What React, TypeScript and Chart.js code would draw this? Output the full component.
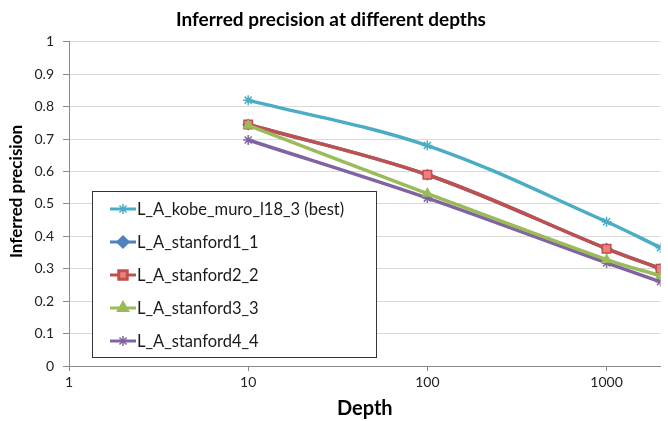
import React, { useEffect, useRef } from "react";
import { Chart, registerables } from "chart.js";
import { drawPoint } from "chart.js/helpers";

Chart.register(...registerables);

const depths = [10, 100, 1000, 2000];
const seriesNames = [
  "L_A_kobe_muro_l18_3 (best)",
  "L_A_stanford1_1",
  "L_A_stanford2_2",
  "L_A_stanford3_3",
  "L_A_stanford4_4",
];
const kobeValues = [0.82, 0.68, 0.445, 0.365];
const stanford1Values = [0.745, 0.59, 0.362, 0.3];
const stanford2Values = [0.745, 0.59, 0.362, 0.3];
const stanford3Values = [0.742, 0.532, 0.328, 0.278];
const stanford4Values = [0.697, 0.518, 0.318, 0.26];
const xTickValues = [1, 10, 100, 1000];

const FONT = "Lato, 'Noto Sans', sans-serif";

function drawStar(ctx: CanvasRenderingContext2D, x: number, y: number, r: number) {
  ctx.beginPath();
  const d = r * Math.SQRT1_2;
  ctx.moveTo(x - d, y - d);
  ctx.lineTo(x + d, y + d);
  ctx.moveTo(x - d, y + d);
  ctx.lineTo(x + d, y - d);
  ctx.moveTo(x, y - r);
  ctx.lineTo(x, y + r);
  ctx.stroke();
}

const insideLegend = {
  id: "insideLegend",
  afterDraw(chart: any) {
    const { ctx, chartArea } = chart;
    const x0 = chartArea.left + 23;
    const w = 284;
    const h = 166;
    const y0 = chartArea.bottom - 9 - h;
    ctx.save();
    ctx.fillStyle = "#ffffff";
    ctx.fillRect(x0, y0, w, h);
    ctx.strokeStyle = "#333333";
    ctx.lineWidth = 1;
    ctx.strokeRect(x0 + 0.5, y0 + 0.5, w, h);
    const rowGap = 33;
    const firstY = y0 + 18;
    chart.data.datasets.forEach((ds: any, i: number) => {
      const y = firstY + i * rowGap;
      const lx = x0 + 18;
      const lw = 26;
      ctx.strokeStyle = ds.borderColor;
      ctx.lineWidth = 3;
      ctx.beginPath();
      ctx.moveTo(lx, y);
      ctx.lineTo(lx + lw, y);
      ctx.stroke();
      ctx.fillStyle = ds.pointBackgroundColor;
      ctx.strokeStyle = ds.pointBorderColor;
      if (ds.pointStyle === "star") {
        ctx.lineWidth = 1.5;
        drawStar(ctx, lx + lw / 2, y, ds.pointRadius);
      } else {
        drawPoint(
          ctx,
          { pointStyle: ds.pointStyle, radius: ds.pointRadius, rotation: 0, borderWidth: ds.pointBorderWidth },
          lx + lw / 2,
          y
        );
      }
      ctx.fillStyle = "#1a1a1a";
      ctx.font = `16.5px ${FONT}`;
      ctx.textBaseline = "middle";
      ctx.textAlign = "left";
      ctx.fillText(seriesNames[i], lx + lw + 1, y + 1);
    });
    ctx.restore();
  },
};

function makeDataset(label: string, values: number[], color: string, fill: string, style: string, radius: number, order: number) {
  return {
    label,
    data: depths.map((d, i) => ({ x: d, y: values[i] })),
    borderColor: color,
    backgroundColor: color,
    borderWidth: 3.5,
    pointStyle: style,
    pointRadius: radius,
    pointBackgroundColor: fill,
    pointBorderColor: color,
    pointBorderWidth: 1.5,
    tension: 0.35,
    order,
  };
}

export default function App() {
  const canvasRef = useRef<HTMLCanvasElement | null>(null);

  useEffect(() => {
    document.body.style.margin = "0";
    const canvas = canvasRef.current;
    if (!canvas) return;
    const chart = new Chart(canvas, {
      type: "line",
      data: {
        datasets: [
          makeDataset(seriesNames[0], kobeValues, "#4BACC6", "#4BACC6", "star", 5, 0),
          makeDataset(seriesNames[1], stanford1Values, "#4F81BD", "#4F81BD", "rectRot", 5, 5),
          makeDataset(seriesNames[2], stanford2Values, "#C0504D", "#F07F7C", "rect", 6, 3),
          makeDataset(seriesNames[3], stanford3Values, "#9BBB59", "#9BBB59", "triangle", 5, 2),
          makeDataset(seriesNames[4], stanford4Values, "#8064A2", "#8064A2", "star", 5, 4),
        ] as any,
      },
      options: {
        animation: false,
        responsive: false,
        maintainAspectRatio: false,
        layout: { padding: { left: 0, right: 6, top: 0, bottom: 0 } },
        plugins: {
          legend: { display: false },
          tooltip: { enabled: false },
          title: {
            display: true,
            text: "Inferred precision at different depths",
            color: "#000000",
            font: { family: FONT, size: 19, weight: "bold" },
            padding: { top: 8, bottom: 11 },
          },
        },
        scales: {
          x: {
            type: "logarithmic",
            min: 1,
            max: 2000,
            afterBuildTicks: (scale: any) => {
              scale.ticks = xTickValues.map((v) => ({ value: v }));
            },
            afterFit: (scale: any) => {
              scale.height = 55;
            },
            ticks: {
              autoSkip: false,
              maxRotation: 0,
              color: "#222222",
              font: { family: FONT, size: 14 },
              padding: 3,
              callback: (v: any) => String(v),
            },
            grid: {
              drawOnChartArea: false,
              drawTicks: true,
              tickLength: 5,
              tickColor: "#8a8a8a",
            },
            border: { color: "#8a8a8a" },
            title: {
              display: true,
              text: "Depth",
              color: "#000000",
              font: { family: FONT, size: 20, weight: "bold" },
              padding: { top: 0, bottom: 0 },
            },
          },
          y: {
            type: "linear",
            min: 0,
            max: 1,
            afterFit: (scale: any) => {
              scale.width = 69;
            },
            ticks: {
              stepSize: 0.1,
              color: "#222222",
              font: { family: FONT, size: 14 },
              padding: 9,
              callback: (v: any) => String(Number(Number(v).toFixed(1))),
            },
            grid: {
              color: "#d9d9d9",
              tickColor: "#8a8a8a",
              tickLength: 6,
            },
            border: { color: "#8a8a8a" },
            title: {
              display: true,
              text: "      Inferred precision",
              color: "#000000",
              font: { family: FONT, size: 17, weight: "bold" },
              padding: { top: 6, bottom: 0 },
            },
          },
        },
      },
      plugins: [insideLegend],
    });
    return () => chart.destroy();
  }, []);

  return (
    <div style={{ width: 668, height: 421, background: "#ffffff" }}>
      <canvas ref={canvasRef} width={668} height={421} style={{ display: "block" }} />
    </div>
  );
}
